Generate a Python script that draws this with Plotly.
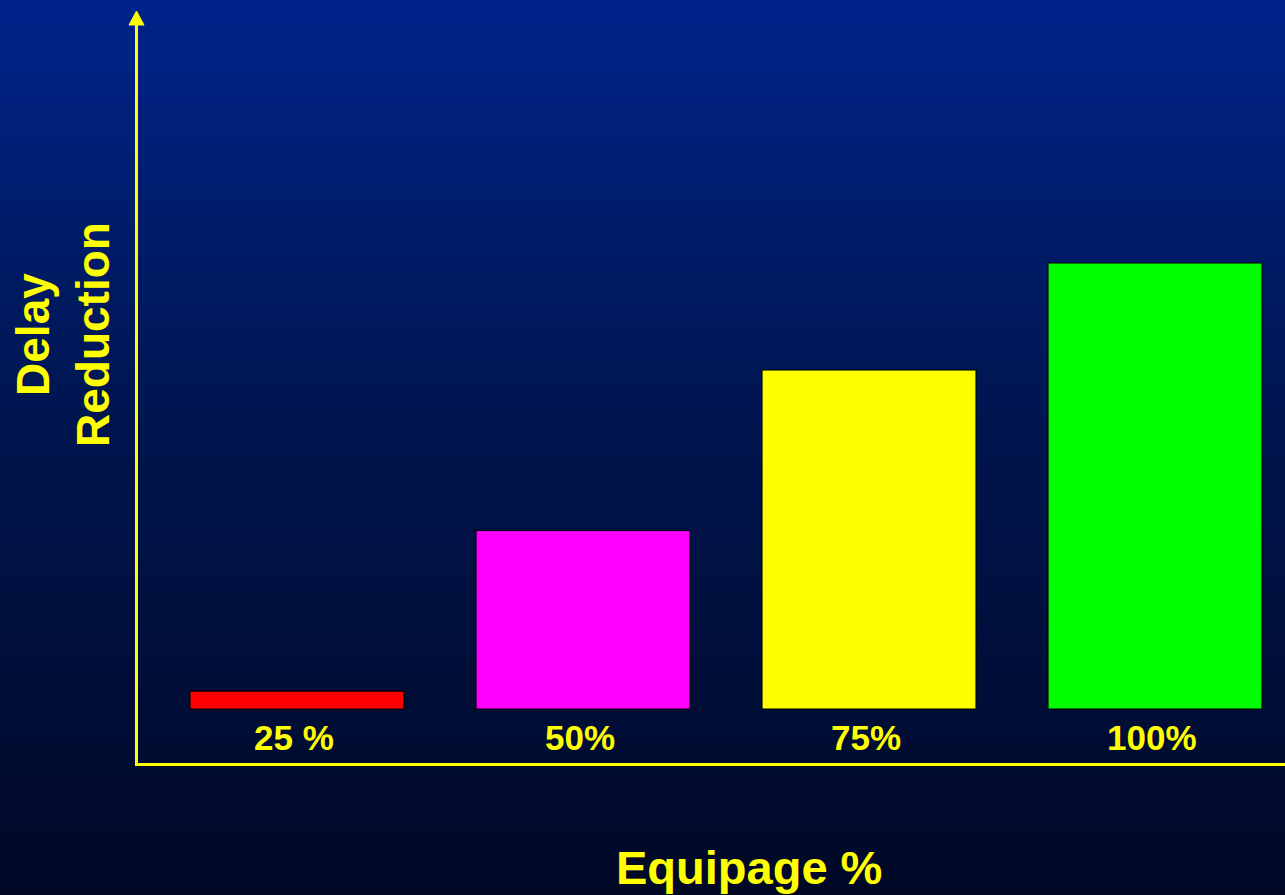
import plotly.graph_objects as go
import numpy as np

# ---- data ----
categories = ["25 %", "50%", "75%", "100%"]
delay_reduction = [0.4, 4.0, 7.6, 10.0]
bar_colors = ["#FF0000", "#FF00FF", "#FFFF00", "#00FF00"]
x_title = "Equipage %"
y_title = "Delay<br>Reduction"

W, H = 1285, 895
ML, MR, MT, MB = 138, 0, 22, 132
PW, PH = W - ML - MR, H - MT - MB
YEL = "#FFFF00"
FONT = "Liberation Sans, Arial, sans-serif"

fig = go.Figure()
fig.add_trace(go.Bar(
    x=categories, y=delay_reduction,
    marker=dict(color=bar_colors, line=dict(color="#000000", width=1)),
    width=0.748, hoverinfo="skip", showlegend=False,
))

# category labels above the axis line
for c in categories:
    fig.add_annotation(x=c, y=0, xref="x", yref="y", text=f"<b>{c}</b>",
                       showarrow=False, yanchor="middle", yshift=-28, xshift=-3,
                       font=dict(family=FONT, size=35, color=YEL))

# axis titles
fig.add_annotation(xref="paper", yref="paper", x=0, y=(763 - 335) / PH,
                   xshift=63 - ML, text=f"<b>{y_title}</b>", textangle=-90,
                   showarrow=False, xanchor="center", yanchor="middle",
                   font=dict(family=FONT, size=46, color=YEL))
fig.add_annotation(xref="paper", yref="paper", x=(749 - ML) / PW, y=(763 - 868) / PH,
                   text=f"<b>{x_title}</b>", showarrow=False,
                   xanchor="center", yanchor="middle",
                   font=dict(family=FONT, size=47, color=YEL))

# background gradient (decoration)
stops_px = [0, 200, 420, 700, 780, 895]
stops_b = [140, 110, 80, 55, 48, 38]
stops_g = [36, 30, 22, 14, 12, 8]
shapes = []
n = 90
for i in range(n):
    p0 = H * i / n
    p1 = H * (i + 1) / n + 1
    pm = (p0 + p1) / 2
    b = np.interp(pm, stops_px, stops_b)
    g = np.interp(pm, stops_px, stops_g)
    shapes.append(dict(type="rect", xref="paper", yref="paper", layer="below",
                       x0=-ML / PW - 0.01, x1=1.01,
                       y0=(MT + PH - p1) / PH, y1=(MT + PH - p0) / PH,
                       fillcolor=f"rgb(0,{int(g)},{int(b)})", line=dict(width=0)))
# arrow head on the y axis
shapes.append(dict(type="path", xref="paper", yref="paper", xsizemode="pixel", ysizemode="pixel",
                   xanchor=0, yanchor=1, path="M -1.5 11 L -9 -3 L 6 -3 Z",
                   fillcolor=YEL, line=dict(color=YEL, width=1), layer="above"))

ymin = -54 / 44.6
ymax = (709 - MT) / 44.6
x0 = -(297 - ML) / 286
fig.update_layout(
    width=W, height=H,
    margin=dict(l=ML, r=MR, t=MT, b=MB, pad=0),
    paper_bgcolor="#000a2a", plot_bgcolor="rgba(0,0,0,0)",
    shapes=shapes,
    bargap=0.252,
    xaxis=dict(range=[x0, x0 + PW / 286], showgrid=False, zeroline=False, showticklabels=False,
               ticks="", showline=True, linecolor=YEL, linewidth=3, fixedrange=True),
    yaxis=dict(range=[ymin, ymax], showgrid=False, zeroline=False, showticklabels=False,
               ticks="", showline=True, linecolor=YEL, linewidth=3, fixedrange=True),
)

fig.write_html("out.html", config={"displayModeBar": False})
